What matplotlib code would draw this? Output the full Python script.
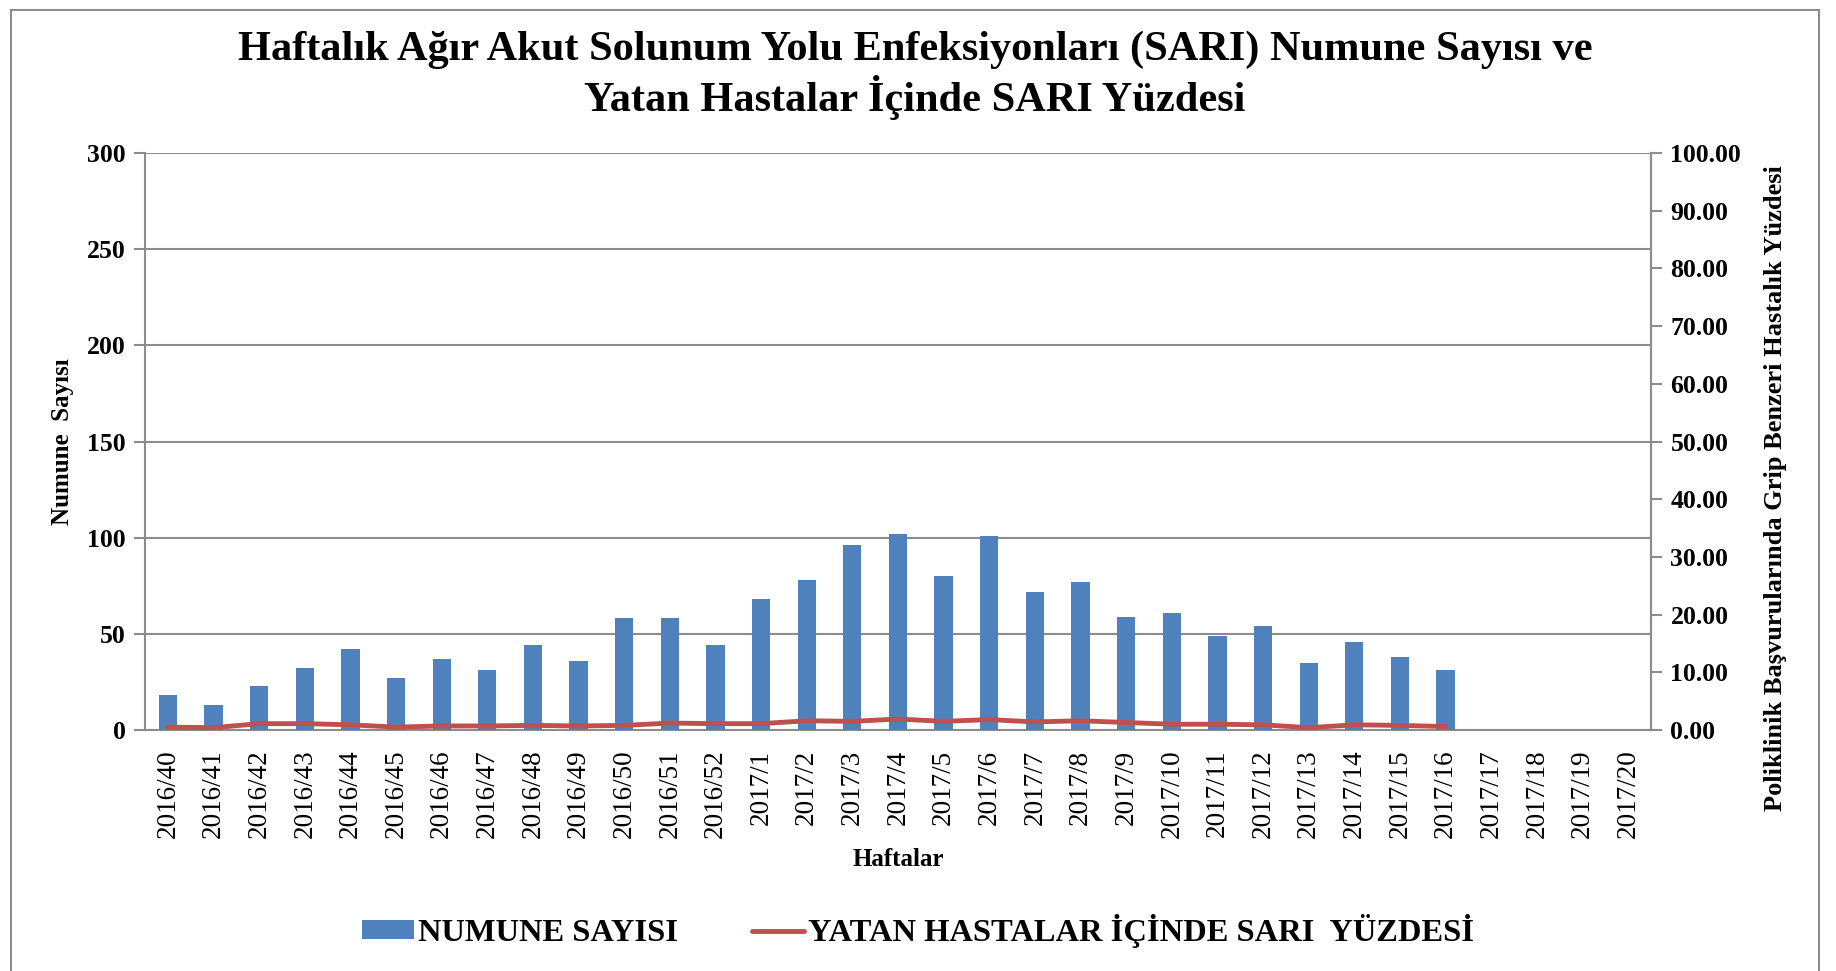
import numpy as np
import matplotlib
matplotlib.use("Agg")
import matplotlib.pyplot as plt
from matplotlib.patches import Rectangle

# ------------------------------------------------------------
# Data
# ------------------------------------------------------------
weeks = ["2016/40", "2016/41", "2016/42", "2016/43", "2016/44", "2016/45",
         "2016/46", "2016/47", "2016/48", "2016/49", "2016/50", "2016/51",
         "2016/52", "2017/1", "2017/2", "2017/3", "2017/4", "2017/5",
         "2017/6", "2017/7", "2017/8", "2017/9", "2017/10", "2017/11",
         "2017/12", "2017/13", "2017/14", "2017/15", "2017/16", "2017/17",
         "2017/18", "2017/19", "2017/20"]

# NUMUNE SAYISI (bars, left axis)
sample_counts = [18, 13, 23, 32, 42, 27, 37, 31, 44, 36, 58, 58, 44, 68, 78,
                 96, 102, 80, 101, 72, 77, 59, 61, 49, 54, 35, 46, 38, 31,
                 np.nan, np.nan, np.nan, np.nan]

# YATAN HASTALAR İÇİNDE SARI YÜZDESİ (line, right axis)
sari_pct = [0.5, 0.4, 1.1, 1.1, 0.9, 0.5, 0.7, 0.7, 0.8, 0.7, 0.8, 1.2, 1.1,
            1.1, 1.6, 1.5, 1.9, 1.5, 1.8, 1.4, 1.6, 1.3, 1.0, 1.0, 0.9, 0.4,
            0.9, 0.8, 0.6, np.nan, np.nan, np.nan, np.nan]

left_ticks = [0, 50, 100, 150, 200, 250, 300]
right_ticks = list(range(0, 101, 10))

BAR_COLOR = "#4F81BD"
LINE_COLOR = "#C0504D"
AXIS_GRAY = "#8C8C8C"

plt.rcParams["font.family"] = ["Liberation Serif", "DejaVu Serif"]

fig = plt.figure(figsize=(18.36, 9.71), dpi=100)
ax = fig.add_axes([0.0790, 0.2482, 0.8202, 0.5942])
ax2 = ax.twinx()

x = np.arange(len(weeks))

# ---- bars ----
bars = ax.bar(x, sample_counts, width=0.4, color=BAR_COLOR,
              label="NUMUNE SAYISI", zorder=3)
ax.set_xlim(-0.5, len(weeks) - 0.5)
ax.set_ylim(0, 300)
ax.set_yticks(left_ticks)
ax.set_yticklabels([str(t) for t in left_ticks], fontsize=18.5,
                   fontweight="bold")
ax.set_xticks(x)
ax.set_xticklabels(weeks, rotation=90, fontsize=19.5)
ax.tick_params(axis="x", length=0, pad=14)
ax.tick_params(axis="y", length=8, width=1.5, color=AXIS_GRAY, pad=6)
ax.grid(axis="y", color=AXIS_GRAY, linewidth=1.5, zorder=0)
ax.set_axisbelow(True)

ax.spines["top"].set_visible(False)
for side in ["left", "bottom", "right"]:
    ax.spines[side].set_color(AXIS_GRAY)
    ax.spines[side].set_linewidth(1.5)

ax.set_ylabel("Numune  Sayısı", fontsize=18, fontweight="bold")
ax.yaxis.set_label_coords(-0.047, 0.5)
ax.set_xlabel("Haftalar", fontsize=18, fontweight="bold")
ax.xaxis.set_label_coords(0.5, -0.2045)

# ---- line on right axis ----
line, = ax2.plot(x, sari_pct, color=LINE_COLOR, linewidth=3.5,
                 solid_capstyle="round",
                 label="YATAN HASTALAR İÇİNDE SARI  YÜZDESİ", zorder=4)
ax2.set_ylim(0, 100)
ax2.set_yticks(right_ticks)
ax2.set_yticklabels([f"{t:.2f}" for t in right_ticks], fontsize=18.5,
                    fontweight="bold")
ax2.tick_params(axis="y", length=8, width=1.5, color=AXIS_GRAY, pad=6)
for side in ["top", "left", "bottom"]:
    ax2.spines[side].set_visible(False)
ax2.spines["right"].set_color(AXIS_GRAY)
ax2.spines["right"].set_linewidth(1.5)
ax2.set_ylabel("Poliklinik Başvurularında Grip Benzeri Hastalık Yüzdesi",
               fontsize=19, fontweight="bold")
ax2.yaxis.set_label_coords(1.075, 0.419)

# ---- title ----
fig.text(0.4984, 1 - 50 / 971,
         "Haftalık Ağır Akut Solunum Yolu Enfeksiyonları (SARI) Numune Sayısı ve",
         ha="center", va="center", fontsize=30.5, fontweight="bold")
fig.text(0.4984, 1 - 97 / 971, "Yatan Hastalar İçinde SARI Yüzdesi",
         ha="center", va="center", fontsize=30.5, fontweight="bold")

# ---- legend ----
fig.legend(handles=[bars, line], loc="center",
           bbox_to_anchor=(0.5, 1 - 931 / 971), ncol=2, frameon=False,
           prop={"size": 23.4, "weight": "bold"}, handlelength=1.6,
           handleheight=0.5, handletextpad=0.1, columnspacing=2.3)

# ---- chart frame ----
fig.patches.append(Rectangle((11 / 1836, -0.01), 1808 / 1836, 1.0,
                             transform=fig.transFigure, fill=False,
                             edgecolor=AXIS_GRAY, linewidth=1.5))

fig.savefig("out.png", dpi=100)
